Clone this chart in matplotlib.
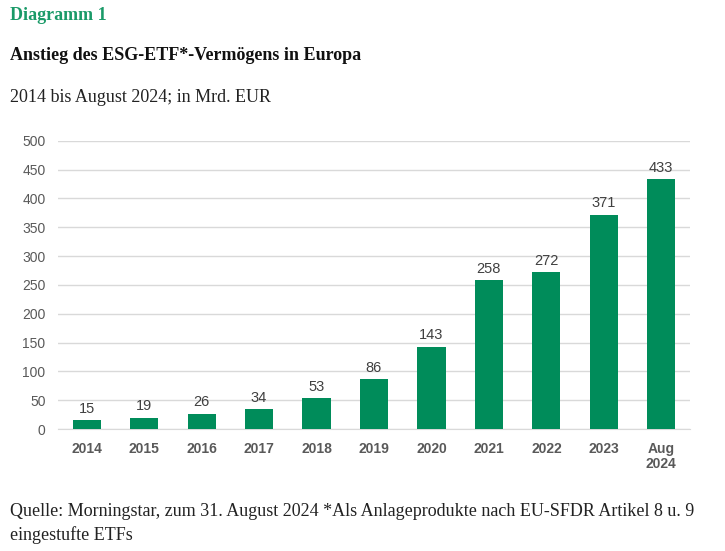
import matplotlib
matplotlib.use("Agg")
import matplotlib.pyplot as plt

categories = ["2014", "2015", "2016", "2017", "2018", "2019", "2020",
              "2021", "2022", "2023", "Aug\n2024"]
values = [15, 19, 26, 34, 53, 86, 143, 258, 272, 371, 433]
yticks = [0, 50, 100, 150, 200, 250, 300, 350, 400, 450, 500]

bar_color = "#008C5A"
tick_color = "#595959"

fig = plt.figure(figsize=(7.25, 5.51), dpi=100)
ax = fig.add_axes([0.08, 0.2214, 0.8717, 0.5232])

x = list(range(len(categories)))
ax.bar(x, values, width=0.49, color=bar_color, zorder=3)
for xi, v in zip(x, values):
    ax.text(xi, v + 8, str(v), ha="center", va="bottom", fontsize=10.5,
            color="#404040", family="Liberation Sans")

ax.set_xlim(-0.5, len(categories) - 0.5)
ax.set_ylim(0, 500)
ax.set_yticks(yticks)
ax.set_yticklabels([str(t) for t in yticks], fontsize=10, color=tick_color,
                   family="Liberation Sans")
ax.set_xticks(x)
ax.set_xticklabels(categories, fontsize=10, color=tick_color,
                   family="Liberation Sans", fontweight="bold", linespacing=1.15)
ax.tick_params(axis="x", length=0, pad=9)
ax.tick_params(axis="y", length=0, pad=9)
ax.grid(axis="y", color="#d9d9d9", linewidth=1, zorder=0)
for s in ["top", "right", "left"]:
    ax.spines[s].set_visible(False)
ax.spines["bottom"].set_color("#d9d9d9")

fig.text(10 / 725, 1 - 15 / 551, "Diagramm 1", ha="left", va="center",
         fontsize=13, fontweight="bold", color="#1a9a68", family="Liberation Serif")
fig.text(10 / 725, 1 - 55 / 551, "Anstieg des ESG-ETF*-Vermögens in Europa",
         ha="left", va="center", fontsize=13, fontweight="bold", color="#111111",
         family="Liberation Serif")
fig.text(10 / 725, 1 - 97 / 551, "2014 bis August 2024; in Mrd. EUR",
         ha="left", va="center", fontsize=13, color="#222222", family="Liberation Serif")
fig.text(10 / 725, 1 - 511 / 551,
         "Quelle: Morningstar, zum 31. August 2024 *Als Anlageprodukte nach EU-SFDR Artikel 8 u. 9",
         ha="left", va="center", fontsize=13, color="#222222", family="Liberation Serif")
fig.text(10 / 725, 1 - 535 / 551, "eingestufte ETFs",
         ha="left", va="center", fontsize=13, color="#222222", family="Liberation Serif")

fig.savefig("out.png", dpi=100)
